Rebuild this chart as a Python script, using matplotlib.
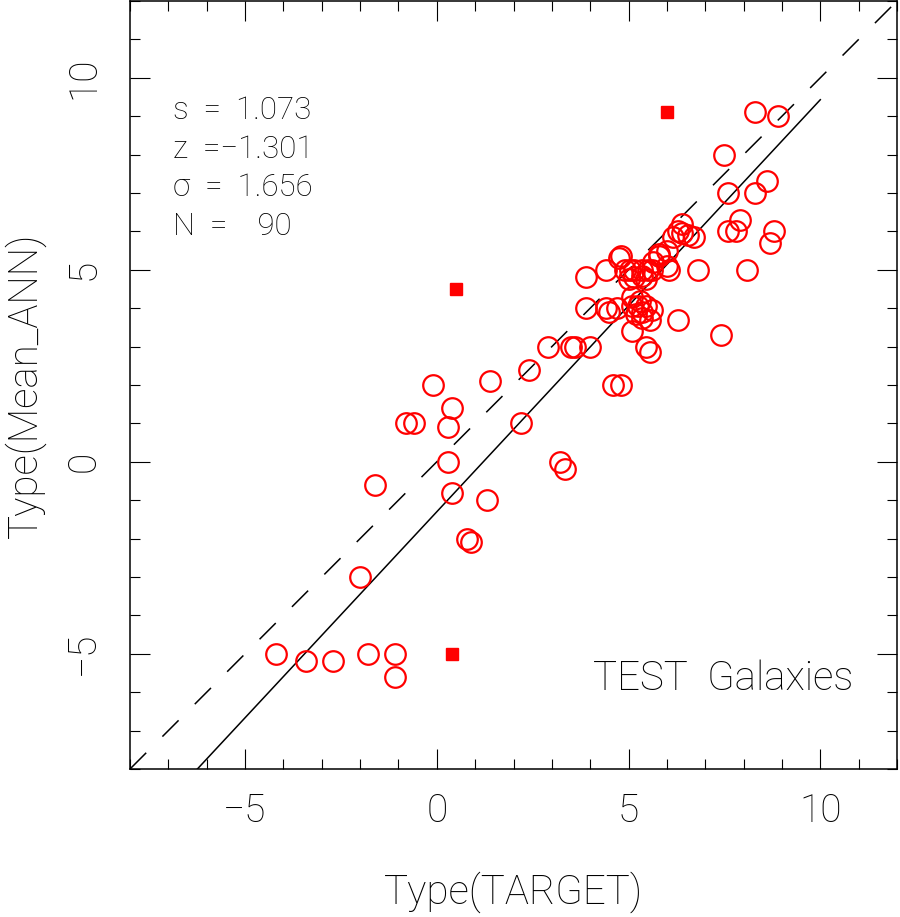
import numpy as np
import matplotlib
matplotlib.use('Agg')
import matplotlib.pyplot as plt
import matplotlib.ticker as ticker

# circles: Type(TARGET) vs Type(Mean_ANN)
tt = [-4.2, -3.4, -2.7, -1.8, -1.1, -1.1, -2.0, 0.8, 0.9, -1.6,
      0.4, 1.3, 0.3, 3.2, 3.35, -0.8, -0.6, 0.3, 2.2, 0.4,
      -0.1, 1.4, 2.4, 4.6, 4.8, 2.9, 3.5, 3.6, 4.0, 5.45,
      5.55, 5.1, 6.3, 7.4, 3.9, 4.4, 4.5, 4.7, 5.1, 5.25,
      5.35, 5.45, 5.6, 5.2, 5.35, 5.55, 5.1, 5.3, 3.9, 4.4,
      4.8, 4.9, 5.05, 5.15, 5.35, 5.5, 5.65, 5.8, 6.0, 6.05,
      5.15, 5.35, 5.45, 5.0, 6.8, 5.8, 6.0, 6.15, 6.3, 6.4,
      6.55, 6.7, 6.4, 8.1, 7.6, 7.8, 7.9, 8.8, 8.7, 7.6,
      8.3, 8.6, 7.5, 8.3, 8.9, 4.75, 5.6]
ann = [-5.0, -5.2, -5.2, -5.0, -5.0, -5.6, -3.0, -2.0, -2.1, -0.6,
       -0.8, -1.0, 0.0, 0.0, -0.2, 1.0, 1.0, 0.9, 1.0, 1.4,
       2.0, 2.1, 2.4, 2.0, 2.0, 3.0, 3.0, 3.0, 3.0, 3.0,
       2.85, 3.4, 3.7, 3.3, 4.0, 4.0, 3.9, 4.0, 4.05, 4.05,
       3.9, 4.05, 3.95, 3.85, 3.75, 3.7, 4.3, 4.2, 4.8, 5.0,
       5.35, 5.0, 5.0, 5.0, 5.0, 5.0, 5.2, 5.35, 5.1, 5.0,
       4.8, 4.85, 4.75, 4.75, 5.0, 5.4, 5.5, 5.85, 6.0, 5.95,
       5.9, 5.85, 6.2, 5.0, 6.0, 6.0, 6.3, 6.0, 5.7, 7.0,
       7.0, 7.3, 8.0, 9.1, 9.0, 5.3, 5.0]

# filled squares
sq_tt = [0.5, 0.4, 6.0]
sq_ann = [4.5, -5.0, 9.1]

# fit results
s_fit = 1.073
z_fit = -1.301
sig = 1.656
n_gal = 90

plt.rcParams['font.family'] = ['Roboto', 'DejaVu Sans']
plt.rcParams['font.weight'] = 'light'
plt.rcParams['axes.labelweight'] = 'light'

fig = plt.figure(figsize=(9, 9.17), dpi=100)
ax = fig.add_axes([130/900, 148/917, 767/900, 768/917])

ax.set_xlim(-8, 12)
ax.set_ylim(-8, 12)

# one-to-one line and fitted line
xx = np.array([-8, 12])
ax.plot(xx, xx, color='black', lw=1.1, dashes=(15, 15))
xf = np.array([-10, 10])
ax.plot(xf, s_fit*xf + z_fit, color='black', lw=1.1)

ax.plot(tt, ann, 'o', mfc='none', mec='red', ms=14.8, mew=1.6)
ax.plot(sq_tt, sq_ann, 's', color='red', ms=8.6)

ax.xaxis.set_major_locator(ticker.MultipleLocator(5))
ax.xaxis.set_minor_locator(ticker.MultipleLocator(1))
ax.yaxis.set_major_locator(ticker.MultipleLocator(5))
ax.yaxis.set_minor_locator(ticker.MultipleLocator(1))
ax.xaxis.set_major_formatter(ticker.FuncFormatter(lambda v, p: f'{v:.0f}'.replace('-', '\u2212')))
ax.yaxis.set_major_formatter(ticker.FuncFormatter(lambda v, p: f'{v:.0f}'.replace('-', '\u2212')))
ax.tick_params(which='both', direction='in', top=True, right=True, width=0.8, color='black')
ax.tick_params(which='major', length=14.4, labelsize=28, pad=17)
ax.tick_params(which='minor', length=7.2)
ax.tick_params(axis='y', which='major', labelrotation=90, pad=20)
for lab in ax.get_yticklabels():
    lab.set_va('center')
for sp in ax.spines.values():
    sp.set_linewidth(1.1)

ax.set_xlabel('Type(TARGET)', fontsize=29, va='center')
ax.xaxis.set_label_coords(0.5, -0.160)
ax.set_ylabel('Type(Mean_ANN)', fontsize=29, va='center')
ax.yaxis.set_label_coords(-0.137, 0.5)

stats = [f's  =  {s_fit:.3f}', f'z  =\u2212{abs(z_fit):.3f}', f'\u03c3  =  {sig:.3f}', f'N  =    {n_gal}']
ys = [0.857, 0.806, 0.757, 0.706]
for t, y in zip(stats, ys):
    ax.text(0.056, y, t, transform=ax.transAxes, fontsize=22.5, va='center', ha='left', color='black')

ax.text(0.943, 0.117, 'TEST  Galaxies', transform=ax.transAxes, fontsize=29, va='center', ha='right')

plt.savefig('out.png', dpi=100)
